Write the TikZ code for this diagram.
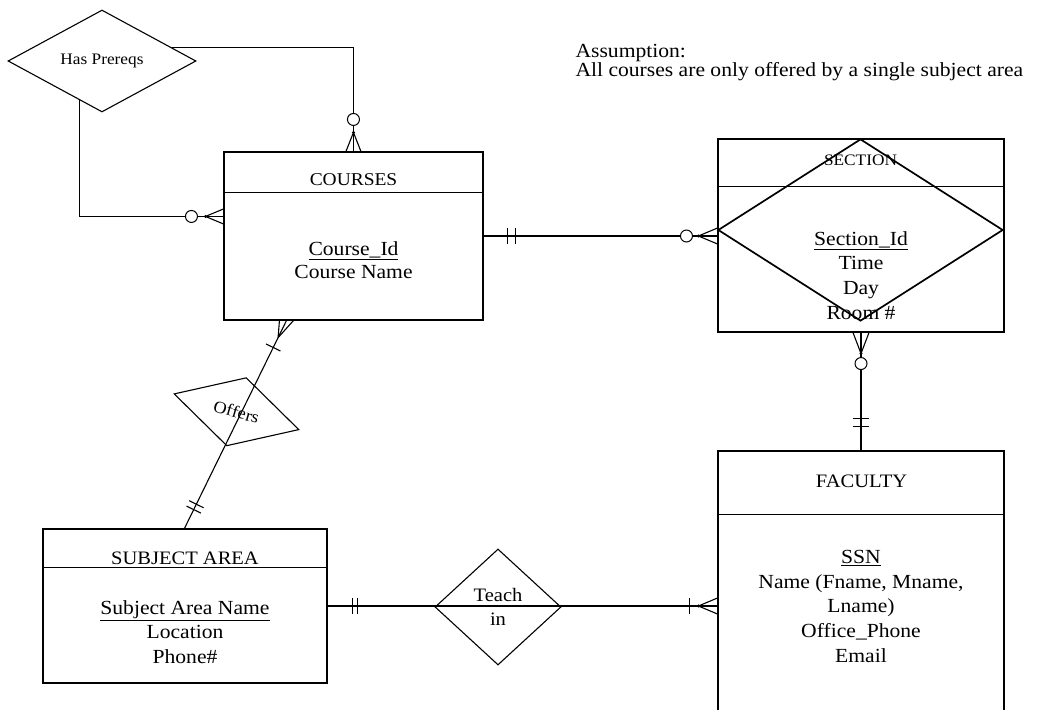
\documentclass[tikz,border=0pt]{standalone}
\usepackage{fontspec}
\setmainfont{Liberation Serif}[FakeStretch=1.08]
\usetikzlibrary{shapes.geometric,calc}
\begin{document}
\begin{tikzpicture}[x=1pt,y=-1pt,line width=1.1pt,
  entity/.style={draw,rectangle,inner sep=0pt},
  rel/.style={draw,diamond,inner sep=0pt},
  hdr/.style={anchor=base,inner sep=0pt,font=\fontsize{#1}{#1}\selectfont},
  attrs/.style={anchor=base,inner sep=0pt,align=center,font=\fontsize{20}{#1}\selectfont},
  ring/.style={draw,circle,fill=white,inner sep=0pt,minimum size=12pt,line width=1pt},
  joint/.style={fill,circle,inner sep=0pt,minimum size=3.2pt}
]
\useasboundingbox (0,0) rectangle (1038,709);
\clip (0,0) rectangle (1038,709);

% ---------- entities ----------
\node[entity,minimum width=259,minimum height=168] (courses) at (353.5,236) {};
\node[entity,minimum width=286,minimum height=193] (section) at (861,235.5) {};
\node[entity,minimum width=286,minimum height=269] (faculty) at (861,585.5) {};
\node[entity,minimum width=284,minimum height=154] (subject) at (185,606) {};

\draw ($(courses.north west)+(0,41)$) -- ($(courses.north east)+(0,41)$);
\draw ($(section.north west)+(0,48)$) -- ($(section.north east)+(0,48)$);
\draw ($(faculty.north west)+(0,64)$) -- ($(faculty.north east)+(0,64)$);
\draw ($(subject.north west)+(0,39)$) -- ($(subject.north east)+(0,39)$);

\node[hdr=18] (coursesT) at (353.5,185) {COURSES};
\node[hdr=16] (sectionT) at (860.5,165) {SECTION};
\node[hdr=19] (facultyT) at (861.5,487.7) {FACULTY};
\node[hdr=19] (subjectT) at (185,564.3) {SUBJECT AREA};

% attribute lists: the base anchor sits on the last line
\node[attrs=23.5] (coursesA) at (353.5,278.5) {\underline{Course\_Id}\\Course Name};
\node[attrs=24.8] (sectionA) at (861,319.4) {\underline{Section\_Id}\\Time\\Day\\Room \#};
\node[attrs=24.7] (facultyA) at (861,662.1) {\underline{SSN}\\Name (Fname, Mname,\\Lname)\\Office\_Phone\\Email};
\node[attrs=24.5] (subjectA) at (185,663.3) {\underline{Subject Area Name}\\Location\\Phone\#};

% diamond laid over the SECTION entity
\node[rel,line width=1.7pt,minimum width=285,minimum height=182] (secdia) at (860.5,230) {};

% ---------- relationships ----------
\node[rel,minimum width=188,minimum height=102,font=\fontsize{16}{16}\selectfont] (hp) at (102,61) {Has Prereqs};
\node[rel,minimum width=126,minimum height=116,align=center,font=\fontsize{19}{23.3}\selectfont] (teach) at (498,607) {Teach\\in};
\node[rel,minimum width=130,minimum height=71,rotate=-16,font=\fontsize{17}{17}\selectfont] (offers) at (236.5,411.75) {Offers};

% ---------- Has Prereqs -> COURSES (top) ----------
\coordinate (hpA) at ($(hp.north)!0.745!(hp.east)$);
\coordinate (ct) at ($(courses.north west)+(130,0)$);
\coordinate (ctJ) at ($(ct)+(0,-19)$);
\draw (hpA) -| (ct);
\draw (ctJ) -- ($(ct)+(-7.5,0)$) (ctJ) -- ($(ct)+(7.5,0)$);
\node[joint] at (ctJ) {};
\node[ring] (ctO) at ($(ct)+(0,-32)$) {};

% ---------- Has Prereqs -> COURSES (left) ----------
\coordinate (hpB) at ($(hp.west)!0.766!(hp.south)$);
\coordinate (cl) at ($(courses.north west)+(0,65)$);
\coordinate (clJ) at ($(cl)+(-18,0)$);
\draw (hpB) |- (cl);
\draw (clJ) -- ($(cl)+(0,-7.5)$) (clJ) -- ($(cl)+(0,7.5)$);
\node[joint] at (clJ) {};
\node[ring] (clO) at ($(cl)+(-32,0)$) {};

% ---------- COURSES -> SECTION ----------
\coordinate (ce) at (courses.east);
\coordinate (se) at (ce -| section.west);
\coordinate (seJ) at ($(se)+(-19,0)$);
\draw (ce) -- (se);
\draw ($(ce)+(24,-8)$) -- ($(ce)+(24,8)$) ($(ce)+(32,-8)$) -- ($(ce)+(32,8)$);
\draw (seJ) -- ($(se)+(0,-8)$) (seJ) -- ($(se)+(0,8)$);
\node[joint] at (seJ) {};
\node[ring] (seO) at ($(se)+(-31,0)$) {};

% ---------- SECTION -> FACULTY ----------
\coordinate (sb) at (section.south);
\coordinate (ft) at (faculty.north);
\coordinate (sbJ) at ($(sb)+(0,21)$);
\draw (sb) -- (ft);
\draw (sbJ) -- ($(sb)+(-8,0)$) (sbJ) -- ($(sb)+(8,0)$);
\node[joint] at (sbJ) {};
\node[ring] (sbO) at ($(sb)+(0,31)$) {};
\draw ($(ft)+(-8,-24)$) -- ($(ft)+(8,-24)$) ($(ft)+(-8,-32)$) -- ($(ft)+(8,-32)$);

% ---------- SUBJECT AREA -> Teach in -> FACULTY ----------
\coordinate (sae) at (subject.east);
\coordinate (fw) at (sae -| faculty.west);
\coordinate (fwJ) at ($(fw)+(-19,0)$);
\draw (sae) -- (fw);
\draw ($(sae)+(25,-8)$) -- ($(sae)+(25,8)$) ($(sae)+(30,-8)$) -- ($(sae)+(30,8)$);
\draw ($(fw)+(-28,-8)$) -- ($(fw)+(-28,8)$);
\draw (fwJ) -- ($(fw)+(0,-8)$) (fwJ) -- ($(fw)+(0,8)$);
\node[joint] at (fwJ) {};

% ---------- COURSES -> Offers -> SUBJECT AREA ----------
\coordinate (cb) at ($(courses.south west)+(63,0)$);
\coordinate (st) at ($(subject.north west)+(142,0)$);
\draw (cb) -- (st);
\coordinate (cbJ) at ($(cb)!19pt!(st)$);
\draw (cbJ) -- ($(cb)+(-7,0)$) (cbJ) -- ($(cb)+(7,0)$);
\coordinate (cbB) at ($(cb)!30pt!(st)$);
\draw ($(cbB)!8pt!90:(st)$) -- ($(cbB)!8pt!-90:(st)$);
\coordinate (stB1) at ($(st)!21pt!(cb)$);
\coordinate (stB2) at ($(st)!27pt!(cb)$);
\draw ($(stB1)!8pt!90:(cb)$) -- ($(stB1)!8pt!-90:(cb)$);
\draw ($(stB2)!8pt!90:(cb)$) -- ($(stB2)!8pt!-90:(cb)$);

% ---------- note ----------
\node[anchor=base west,inner sep=0pt,align=left,font=\fontsize{20}{17.5}\selectfont] (note) at (575,77)
  {Assumption:\\All courses are only offered by a single subject area};
\end{tikzpicture}
\end{document}
